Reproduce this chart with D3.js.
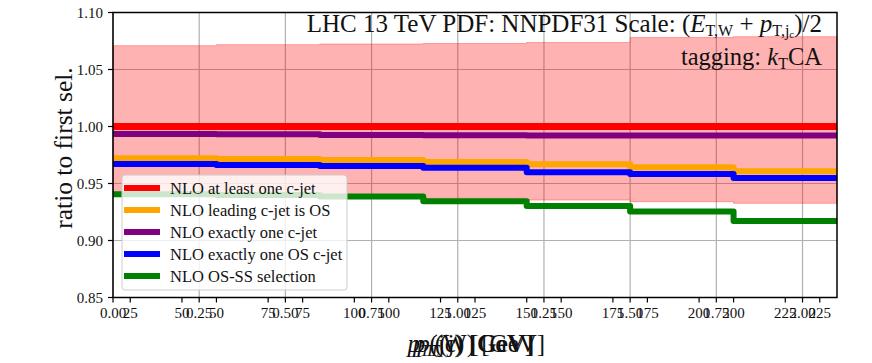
<!DOCTYPE html>
<html>
<head>
<meta charset="utf-8">
<script src="https://cdn.jsdelivr.net/npm/d3@7"></script>
<style>
  body { margin: 0; background: #fff; }
  svg { display: block; }
</style>
</head>
<body>
<svg id="chart"></svg>
<script>
// bin edges in GeV
const binEdges = [20, 50, 80, 110, 140, 170, 200, 230]

const seriesNames = [
  "NLO at least one c-jet",
  "NLO leading c-jet is OS",
  "NLO exactly one c-jet",
  "NLO exactly one OS c-jet",
  "NLO OS-SS selection",
]
const seriesColors = ["red", "orange", "purple", "blue", "green"]

const atLeastOne = [1.0, 1.0, 1.0, 1.0, 1.0, 1.0, 1.0]
const leadingOS = [0.9721, 0.9715, 0.9706, 0.9689, 0.9668, 0.9642, 0.9607]
const exactlyOne = [0.9935, 0.9932, 0.9926, 0.9924, 0.9922, 0.9921, 0.9921]
const exactlyOneOS = [0.9671, 0.9662, 0.9653, 0.9639, 0.9598, 0.9583, 0.9548]
const osMinusSS = [0.9405, 0.94, 0.9385, 0.9345, 0.9302, 0.9255, 0.917]

const bandUpper = [1.0709, 1.0718, 1.0724, 1.0728, 1.0737, 1.078, 1.0788]
const bandLower = [0.9412, 0.9398, 0.9385, 0.937, 0.9355, 0.934, 0.9326]

const yTicks = [0.85, 0.9, 0.95, 1.0, 1.05, 1.1]
const ticksA = [0, 0.25, 0.5, 0.75, 1.0, 1.25, 1.5, 1.75, 2.0]
const ticksB = [25, 50, 75, 100, 125, 150, 175, 200, 225]
const ticksC = [50, 75, 100, 125, 150, 175, 200, 225]

const allSeries = [atLeastOne, leadingOS, exactlyOne, exactlyOneOS, osMinusSS]

const FONT = "'Liberation Serif', 'Times New Roman', serif"
const width = 872
const height = 363
const margin = { left: 113, right: 35, top: 12.5, bottom: 65.5 }
const innerW = width - margin.left - margin.right
const innerH = height - margin.top - margin.bottom

const svg = d3.select("#chart")
  .attr("width", width)
  .attr("height", height)
  .attr("font-family", FONT)
  .attr("fill", "#111")
const g = svg.append("g").attr("transform", `translate(${margin.left},${margin.top})`)

const x = d3.scaleLinear().domain([20, 230]).range([0, innerW])
const xA = d3.scaleLinear().domain([0, 2.1]).range([0, innerW])
const xC = d3.scaleLinear().domain([30, 240]).range([0, innerW])
const y = d3.scaleLinear().domain([0.85, 1.1]).range([innerH, 0])

// grid
const grid = g.append("g").attr("stroke", "#b0b0b0").attr("stroke-width", 1.2)
ticksA.forEach((t) => {
  grid.append("line").attr("x1", xA(t)).attr("x2", xA(t)).attr("y1", 0).attr("y2", innerH)
})
yTicks.forEach((t) => {
  grid.append("line").attr("x1", 0).attr("x2", innerW).attr("y1", y(t)).attr("y2", y(t))
})

const stepPoints = (vals) => binEdges.map((e, i) => ({ x: e, v: vals[Math.min(i, vals.length - 1)] }))

// uncertainty band
const band = binEdges.map((e, i) => ({
  x: e,
  lo: bandLower[Math.min(i, 6)],
  hi: bandUpper[Math.min(i, 6)],
}))
const area = d3
  .area()
  .curve(d3.curveStepAfter)
  .x((d) => x(d.x))
  .y0((d) => y(d.lo))
  .y1((d) => y(d.hi))
g.append("path")
  .attr("d", area(band))
  .attr("fill", "rgba(255,0,0,0.3)")
  .attr("stroke", "rgba(255,0,0,0.3)")
  .attr("stroke-width", 1)

// step lines
const line = d3
  .line()
  .curve(d3.curveStepAfter)
  .x((d) => x(d.x))
  .y((d) => y(d.v))

allSeries.forEach((vals, i) => {
  g.append("path")
    .attr("d", line(stepPoints(vals)))
    .attr("fill", "none")
    .attr("stroke", seriesColors[i])
    .attr("stroke-width", i === 0 ? 7 : 6)
    .attr("stroke-linejoin", "round")
})

// frame
g.append("rect")
  .attr("width", innerW)
  .attr("height", innerH)
  .attr("fill", "none")
  .attr("stroke", "#000")
  .attr("stroke-width", 1.5)

// y axis
const yAxis = g.append("g")
yTicks.forEach((t) => {
  yAxis.append("line").attr("x1", -5).attr("x2", 0).attr("y1", y(t)).attr("y2", y(t)).attr("stroke", "#000").attr("stroke-width", 1.2)
  yAxis.append("text")
    .attr("x", -10)
    .attr("y", y(t) + 5)
    .attr("text-anchor", "end")
    .style("font-size", "15px")
    .text(d3.format(".2f")(t))
})

// three overlapping x axes
const xAxes = [
  { scale: xA, ticks: ticksA, fmt: d3.format(".2f") },
  { scale: x, ticks: ticksB, fmt: d3.format("d") },
  { scale: xC, ticks: ticksC, fmt: d3.format("d") },
]
xAxes.forEach((ax) => {
  const gg = g.append("g").attr("transform", `translate(0,${innerH})`)
  ax.ticks.forEach((t) => {
    const px = ax.scale(t)
    gg.append("line").attr("x1", px).attr("x2", px).attr("y1", 0).attr("y2", 5).attr("stroke", "#000").attr("stroke-width", 1.2)
    gg.append("text")
      .attr("x", px)
      .attr("y", 20)
      .attr("text-anchor", "middle")
      .style("font-size", "15px")
      .text(ax.fmt(t))
  })
})

// axis labels
svg.append("text")
  .attr("transform", `translate(72,148) rotate(-90)`)
  .attr("text-anchor", "middle")
  .style("font-size", "25.5px")
  .text("ratio to first sel.")

const xLabels = [
  ["(j)", 0],
  ["(W)", 4],
  ["(jc)", -4],
]
xLabels.forEach(([sub, dx]) => {
  const t = svg.append("text")
    .attr("x", margin.left + innerW / 2 + dx)
    .attr("y", 352)
    .attr("text-anchor", "middle")
    .style("font-size", "25px")
  t.append("tspan").style("font-style", "italic").text("p")
  t.append("tspan").style("font-style", "italic").style("font-size", "17px").attr("dy", 4).text("T")
  t.append("tspan").attr("dy", -4).text(sub + " [GeV]")
})

// header text
const title = svg.append("text")
  .attr("x", 822)
  .attr("y", 32)
  .attr("text-anchor", "end")
  .style("font-size", "25px")
title.append("tspan").text("LHC 13 TeV PDF: NNPDF31 Scale: (")
title.append("tspan").style("font-style", "italic").text("E")
title.append("tspan").style("font-size", "16px").attr("dy", 4).text("T,W")
title.append("tspan").attr("dy", -4).text(" + ")
title.append("tspan").style("font-style", "italic").text("p")
title.append("tspan").style("font-size", "16px").attr("dy", 4).text("T,j")
title.append("tspan").style("font-size", "11px").attr("dy", 2).text("c")
title.append("tspan").attr("dy", -6).text(")/2")

const tag = svg.append("text")
  .attr("x", 822)
  .attr("y", 65)
  .attr("text-anchor", "end")
  .style("font-size", "24.5px")
tag.append("tspan").text("tagging: ")
tag.append("tspan").style("font-style", "italic").text("k")
tag.append("tspan").style("font-size", "16px").attr("dy", 4).text("T")
tag.append("tspan").attr("dy", -4).text("CA")

// legend
const legend = svg.append("g").attr("transform", "translate(122,175)")
legend.append("rect")
  .attr("width", 225)
  .attr("height", 115)
  .attr("rx", 3)
  .attr("fill", "rgba(255,255,255,0.8)")
  .attr("stroke", "#cccccc")
  .attr("stroke-width", 1)
seriesNames.forEach((name, i) => {
  const ly = 13 + i * 22
  legend.append("line")
    .attr("x1", 2).attr("x2", 38)
    .attr("y1", ly).attr("y2", ly)
    .attr("stroke", seriesColors[i])
    .attr("stroke-width", 6)
  legend.append("text")
    .attr("x", 48)
    .attr("y", ly + 6)
    .style("font-size", "16.5px")
    .text(name)
})
</script>
</body>
</html>
